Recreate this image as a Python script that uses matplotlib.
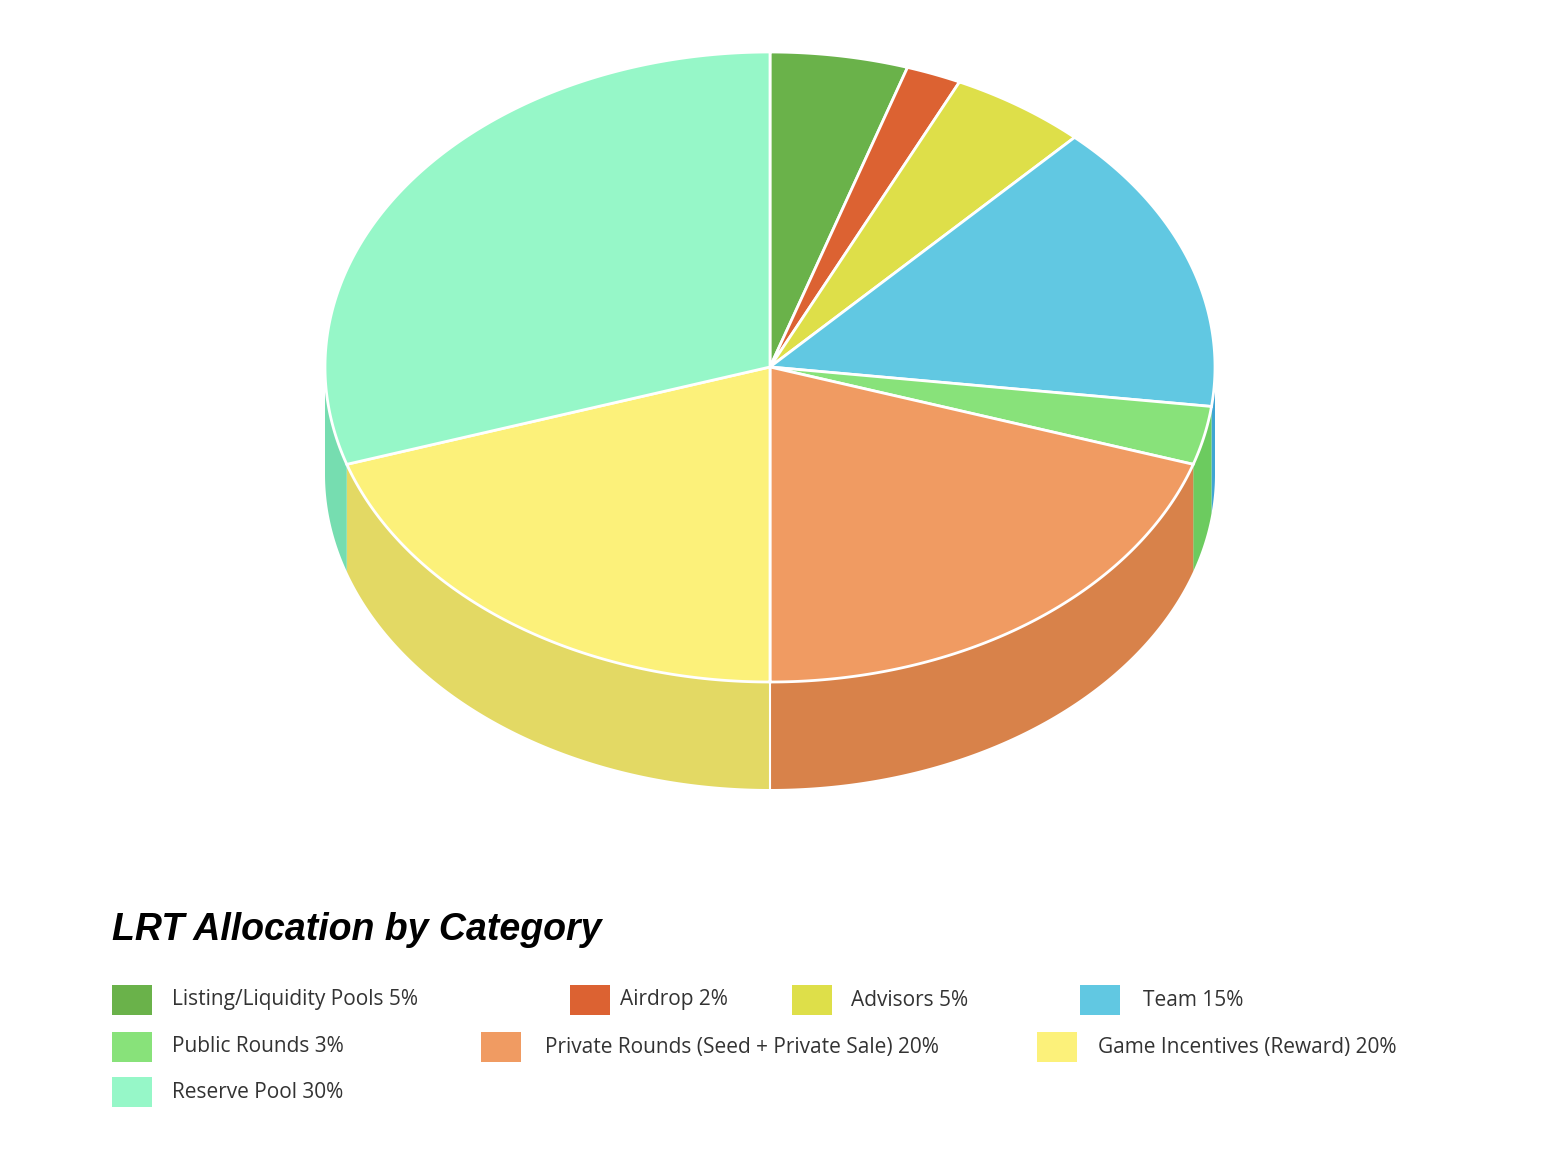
import numpy as np
import matplotlib.pyplot as plt
from matplotlib.patches import Polygon

labels = ["Listing/Liquidity Pools 5%", "Airdrop 2%", "Advisors 5%", "Team 15%",
          "Public Rounds 3%", "Private Rounds (Seed + Private Sale) 20%",
          "Game Incentives (Reward) 20%", "Reserve Pool 30%"]
values = [5, 2, 5, 15, 3, 20, 20, 30]
top_colors = ["#6AB24A", "#DC6232", "#DEDF49", "#61C8E2", "#88E27A", "#F09B62", "#FCF17A", "#96F7C8"]
side_colors = ["#5A9A3E", "#B8502A", "#C4C53E", "#3FA5D4", "#6CCB5F", "#D8824A", "#E3D964", "#76DDB0"]

# pixel geometry
cx, cy, rx, ry, depth = 770, 367, 445, 315, 107

fig = plt.figure(figsize=(15.68, 11.66), dpi=100)
ax = fig.add_axes([0, 0, 1, 1])
ax.set_xlim(0, 1568)
ax.set_ylim(1166, 0)
ax.axis("off")

cum = np.concatenate([[0], np.cumsum(values)]) / sum(values)

def pt(t):
    return cx + rx * np.cos(t), cy - ry * np.sin(t)

# side walls (front half only)
for i in range(len(values)):
    t0 = np.pi / 2 - 2 * np.pi * cum[i]
    t1 = np.pi / 2 - 2 * np.pi * cum[i + 1]
    ts = np.linspace(t0, t1, 200)
    ts = ts[np.sin(ts) <= 0.001]
    if len(ts) < 2:
        continue
    xs, ys = pt(ts)
    poly = list(zip(xs, ys)) + list(zip(xs[::-1], ys[::-1] + depth))
    ax.add_patch(Polygon(poly, closed=True, fc=side_colors[i], ec="none"))
# boundary line between yellow and orange sides
ax.plot([cx, cx], [cy + ry, cy + ry + depth], color="white", lw=1.5)

# top wedges
for i in range(len(values)):
    t0 = np.pi / 2 - 2 * np.pi * cum[i]
    t1 = np.pi / 2 - 2 * np.pi * cum[i + 1]
    ts = np.linspace(t0, t1, 300)
    xs, ys = pt(ts)
    poly = [(cx, cy)] + list(zip(xs, ys))
    ax.add_patch(Polygon(poly, closed=True, fc=top_colors[i], ec="white", lw=2))

ax.text(112, 930, "LRT Allocation by Category", fontsize=27, fontweight="bold",
        fontstyle="italic", family="Liberation Sans", va="center", ha="left")

box_x = [112, 570, 792, 1080, 112, 481, 1037, 112]
text_x = [172, 620, 851, 1143, 172, 545, 1098, 172]
row_y = [1000, 1000, 1000, 1000, 1047, 1047, 1047, 1092]
for i, lab in enumerate(labels):
    ax.add_patch(plt.Rectangle((box_x[i], row_y[i] - 15), 40, 30, fc=top_colors[i], ec="none"))
    ax.text(text_x[i], row_y[i], lab, fontsize=15, color="#333333", va="center", ha="left",
            family="Open Sans")

fig.savefig("out.png", dpi=100)
